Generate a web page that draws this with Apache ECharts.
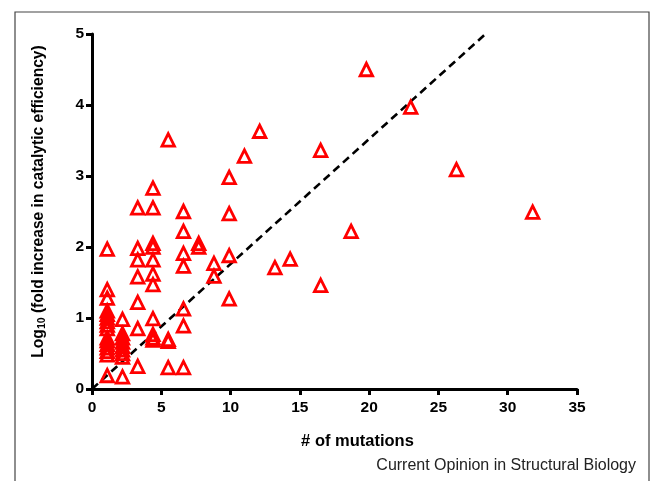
<!DOCTYPE html>
<html>
<head>
<meta charset="utf-8">
<script src="https://cdn.jsdelivr.net/npm/echarts@6/dist/echarts.min.js"></script>
<style>
  html, body { margin: 0; padding: 0; background: #fff; }
  #chart { width: 653px; height: 481px; }
</style>
</head>
<body>
<div id="chart"></div>
<script>
// values as they sit on the axes of the figure
const mutations = [
  1.1, 1.1, 1.1, 1.1, 1.1, 1.1, 1.1, 1.1, 1.1, 1.1, 1.1, 1.1, 1.1, 1.1, 1.1, 1.1,
  2.2, 2.2, 2.2, 2.2, 2.2, 2.2, 2.2, 2.2, 2.2,
  3.3, 3.3, 3.3, 3.3, 3.3, 3.3, 3.3,
  4.4, 4.4, 4.4, 4.4, 4.4, 4.4, 4.4, 4.4, 4.4, 4.4, 4.4,
  5.5, 5.5, 5.5, 5.5,
  6.6, 6.6, 6.6, 6.6, 6.6, 6.6, 6.6,
  7.7, 7.7,
  8.8, 8.8,
  9.9, 9.9, 9.9, 9.9,
  11, 12.1, 13.2, 14.3,
  16.5, 16.5,
  18.7, 19.8, 23, 26.3, 31.8
]
const log10Gain = [
  1.97, 1.4, 1.28, 1.1, 1.05, 1.0, 0.95, 0.9, 0.85, 0.72, 0.68, 0.63, 0.58, 0.53, 0.48, 0.19,
  0.98, 0.78, 0.72, 0.66, 0.6, 0.55, 0.5, 0.45, 0.17,
  2.55, 1.98, 1.82, 1.58, 1.22, 0.85, 0.32,
  2.83, 2.55, 2.05, 2.0, 1.82, 1.62, 1.47, 0.99, 0.77, 0.72, 0.69,
  3.51, 0.7, 0.67, 0.3,
  2.5, 2.22, 1.91, 1.73, 1.13, 0.89, 0.3,
  2.05, 2.0,
  1.77, 1.59,
  2.98, 2.47, 1.88, 1.27,
  3.28, 3.63, 1.71, 1.83,
  3.36, 1.46,
  2.22, 4.5, 3.97, 3.09, 2.49
]
// dashed trend line ends
const fitX = [0, 28.4]
const fitY = [0, 5]

const font = 'Liberation Sans, Arial, Helvetica, sans-serif'
const axisLine = { lineStyle: { color: '#000', width: 3 } }
const axisTick = { length: 6, lineStyle: { color: '#000', width: 3 } }

const chart = echarts.init(document.getElementById('chart'))
const option = {
  animation: false,
  backgroundColor: '#fff',
  textStyle: { fontFamily: font },
  grid: { left: 92, right: 76, top: 34, bottom: 92 },
  graphic: [
    {
      type: 'rect',
      shape: { x: 15, y: 12, width: 634, height: 490 },
      style: { fill: 'none', stroke: '#444', lineWidth: 1.2 },
      silent: true
    },
    {
      type: 'text',
      right: 17,
      top: 458,
      style: {
        text: 'Current Opinion in Structural Biology',
        font: '16px ' + font,
        fill: '#222'
      }
    }
  ],
  xAxis: {
    type: 'value',
    min: 0,
    max: 35,
    interval: 5,
    splitLine: { show: false },
    axisLine: axisLine,
    axisTick: axisTick,
    axisLabel: { color: '#000', fontWeight: 'bold', fontSize: 15.5, margin: 11, fontFamily: font },
    name: '# of mutations',
    nameLocation: 'middle',
    nameGap: 44,
    nameTextStyle: { color: '#000', fontWeight: 'bold', fontSize: 16.5, fontFamily: font, padding: [0, 0, 0, 46] }
  },
  yAxis: {
    type: 'value',
    min: 0,
    max: 5,
    interval: 1,
    splitLine: { show: false },
    axisLine: axisLine,
    axisTick: axisTick,
    axisLabel: { color: '#000', fontWeight: 'bold', fontSize: 15.5, margin: 8, fontFamily: font },
    name: '{b|Log}{s|10}{b| (fold increase in catalytic efficiency)}',
    nameLocation: 'middle',
    nameRotate: 90,
    nameGap: 44,
    nameTextStyle: {
      color: '#000',
      padding: [0, 0, 0, 20],
      rich: {
        b: { fontSize: 15.6, fontWeight: 'bold', fontFamily: font, color: '#000', lineHeight: 18 },
        s: { fontSize: 10.5, fontWeight: 'bold', fontFamily: font, color: '#000', lineHeight: 10, verticalAlign: 'bottom' }
      }
    }
  },
  series: [
    {
      type: 'line',
      data: fitX.map((x, i) => [x, fitY[i]]),
      symbol: 'none',
      lineStyle: { color: '#000', width: 2.6, type: [8, 5] },
      z: 1
    },
    {
      type: 'scatter',
      data: mutations.map((x, i) => [x, log10Gain[i]]),
      symbol: 'triangle',
      symbolSize: 12.5,
      itemStyle: { color: 'rgba(255,255,255,0)', borderColor: '#ff0000', borderWidth: 2.8, opacity: 1 },
      emphasis: { disabled: true },
      z: 3
    }
  ]
}
chart.setOption(option)
</script>
</body>
</html>
